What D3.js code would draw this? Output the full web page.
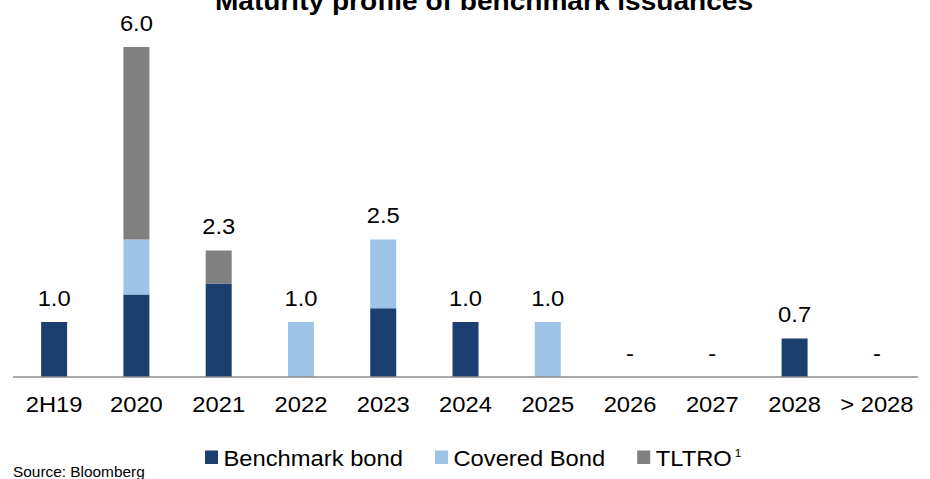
<!DOCTYPE html>
<html>
<head>
<meta charset="utf-8">
<script src="https://cdn.jsdelivr.net/npm/d3@7"></script>
<style>
  html, body { margin: 0; padding: 0; background: #fff; }
  svg { display: block; font-family: "Liberation Sans", Arial, sans-serif; }
</style>
</head>
<body>
<svg id="chart" width="930" height="479"></svg>
<script>
// Maturity buckets and amounts per funding source
const categories = ["2H19", "2020", "2021", "2022", "2023", "2024", "2025", "2026", "2027", "2028", "> 2028"];
const benchmarkBond = [1.0, 1.5, 1.7, 0, 1.25, 1.0, 0, 0, 0, 0.7, 0];
const coveredBond   = [0, 1.0, 0, 1.0, 1.25, 0, 1.0, 0, 0, 0, 0];
const tltro         = [0, 3.5, 0.6, 0, 0, 0, 0, 0, 0, 0, 0];
const seriesNames   = ["Benchmark bond", "Covered Bond", "TLTRO"];
const seriesColors  = ["#1b3f6f", "#9dc3e6", "#808080"];
const yDomain = [0, 6];

const svg = d3.select("#chart");
const STRETCH = "scale(1.08,1)";

const rows = categories.map((c, i) => ({
  cat: c,
  "Benchmark bond": benchmarkBond[i],
  "Covered Bond": coveredBond[i],
  "TLTRO": tltro[i]
}));
const stacked = d3.stack().keys(seriesNames)(rows);

const x = d3.scaleBand().domain(categories).range([13, 918])
  .paddingInner(0.684).paddingOuter(0.342);
const y = d3.scaleLinear().domain(yDomain).range([377, 47]);
const color = d3.scaleOrdinal().domain(seriesNames).range(seriesColors);

// Title (sits partly above the top edge)
svg.append("g").attr("transform", "translate(484,9.5)")
  .append("text").attr("transform", STRETCH)
  .attr("text-anchor", "middle").attr("font-weight", "bold")
  .attr("font-size", 26).attr("fill", "#000")
  .text("Maturity profile of benchmark issuances");

// Stacked bars
svg.append("g").selectAll("g").data(stacked).join("g")
  .attr("fill", d => color(d.key))
  .selectAll("rect").data(d => d).join("rect")
  .attr("x", d => x(d.data.cat))
  .attr("width", x.bandwidth())
  .attr("y", d => y(d[1]))
  .attr("height", d => y(d[0]) - y(d[1]));

// Baseline
svg.append("line")
  .attr("x1", x.range()[0]).attr("x2", x.range()[1])
  .attr("y1", y(0)).attr("y2", y(0))
  .attr("stroke", "#8c8c8c").attr("stroke-width", 1.5);

// Category axis
const xAxis = svg.append("g").attr("transform", `translate(0,${y(0)})`)
  .call(d3.axisBottom(x).tickSize(0).tickPadding(0));
xAxis.select(".domain").remove();
xAxis.selectAll("text")
  .attr("y", 35).attr("dy", null)
  .attr("transform", STRETCH)
  .attr("font-size", 22).attr("font-family", "Liberation Sans, Arial, sans-serif")
  .attr("fill", "#000");

// Totals above each bar
const totals = rows.map((r, i) => ({
  cat: r.cat,
  total: benchmarkBond[i] + coveredBond[i] + tltro[i]
}));
svg.append("g").selectAll("g").data(totals).join("g")
  .attr("transform", d => `translate(${x(d.cat) + x.bandwidth() / 2},${y(d.total) - 16.5})`)
  .append("text").attr("transform", STRETCH)
  .attr("text-anchor", "middle").attr("font-size", 22).attr("fill", "#000")
  .text(d => d.total > 0 ? d3.format(".1f")(d.total) : "-");

// Legend
const legend = svg.append("g");
let lx = 205;
seriesNames.forEach((name) => {
  const item = legend.append("g").attr("transform", `translate(${lx},0)`);
  item.append("rect").attr("x", 0).attr("y", 450.5).attr("width", 13).attr("height", 13.5)
    .attr("fill", color(name));
  const tg = item.append("g").attr("transform", "translate(18.5,466)");
  const t = tg.append("text").attr("transform", STRETCH)
    .attr("font-size", 22).attr("fill", "#000").text(name);
  let w = t.node().getComputedTextLength() * 1.08;
  if (name === "TLTRO") {
    item.append("g").attr("transform", `translate(${18.5 + w + 3},456.5)`)
      .append("text").attr("transform", STRETCH)
      .attr("font-size", 11).attr("fill", "#000").text("1");
    w += 10;
  }
  lx += 18.5 + w + 32;
});

// Source note
svg.append("g").attr("transform", "translate(13,476.5)")
  .append("text").attr("transform", "scale(1.1,1)")
  .attr("font-size", 14).attr("fill", "#000").text("Source: Bloomberg");
</script>
</body>
</html>
